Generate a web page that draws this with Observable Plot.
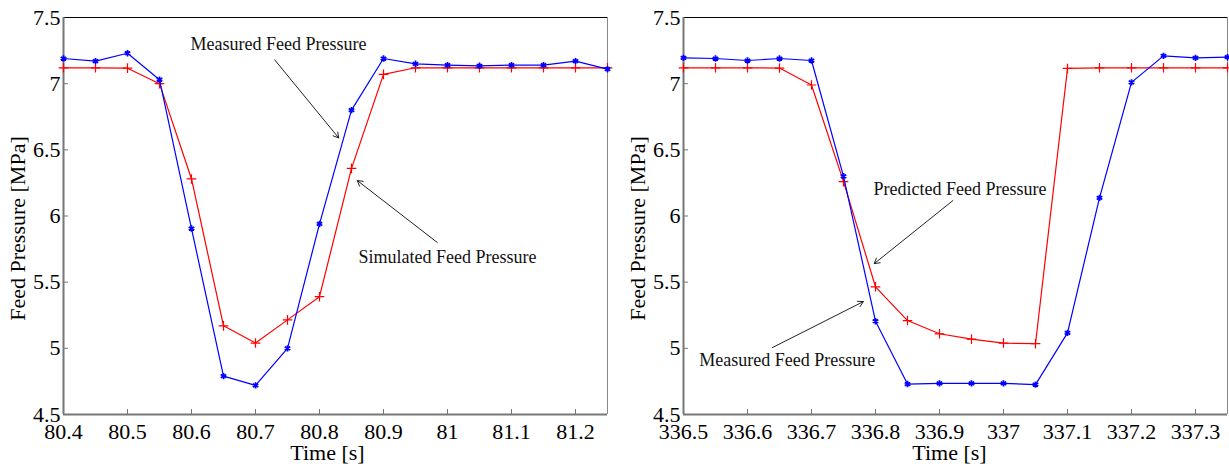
<!DOCTYPE html>
<html>
<head>
<meta charset="utf-8">
<script src="https://cdn.jsdelivr.net/npm/d3@7"></script>
<script src="https://cdn.jsdelivr.net/npm/@observablehq/plot@0.6"></script>
<style>
  html, body { margin: 0; padding: 0; background: white; }
  #wrap { display: flex; width: 1229px; height: 467px; }
  #wrap svg, #wrap svg text { font-family: "Liberation Serif", "Times New Roman", "DejaVu Serif", serif !important; }
</style>
</head>
<body>
<div id="wrap"></div>
<script>
// ---- Data ----
const leftTime = [80.4, 80.45, 80.5, 80.55, 80.6, 80.65, 80.7, 80.75, 80.8, 80.85, 80.9, 80.95, 81.0, 81.05, 81.1, 81.15, 81.2, 81.25];
const leftMeasured = [7.19, 7.17, 7.23, 7.03, 5.905, 4.79, 4.72, 5.0, 5.94, 6.80, 7.19, 7.15, 7.14, 7.135, 7.14, 7.14, 7.17, 7.11];
const leftSimulated = [7.12, 7.12, 7.117, 7.0, 6.28, 5.17, 5.04, 5.215, 5.39, 6.36, 7.07, 7.12, 7.12, 7.12, 7.12, 7.12, 7.12, 7.12];

const rightTime = [336.5, 336.55, 336.6, 336.65, 336.7, 336.75, 336.8, 336.85, 336.9, 336.95, 337.0, 337.05, 337.1, 337.15, 337.2, 337.25, 337.3, 337.35];
const rightMeasured = [7.195, 7.19, 7.175, 7.19, 7.175, 6.30, 5.205, 4.73, 4.735, 4.735, 4.735, 4.726, 5.117, 6.137, 7.01, 7.21, 7.195, 7.20];
const rightPredicted = [7.12, 7.12, 7.12, 7.118, 6.99, 6.26, 5.465, 5.21, 5.11, 5.07, 5.04, 5.035, 7.115, 7.12, 7.12, 7.12, 7.12, 7.12];

const leftXTicks = [80.4, 80.5, 80.6, 80.7, 80.8, 80.9, 81.0, 81.1, 81.2];
const rightXTicks = [336.5, 336.6, 336.7, 336.8, 336.9, 337.0, 337.1, 337.2, 337.3];
const yTicks = [4.5, 5, 5.5, 6, 6.5, 7, 7.5];
const leftXDomain = [80.4, 81.25];
const rightXDomain = [336.5, 337.35];
const yDomain = [4.5, 7.5];

const xLabel = "Time [s]";
const yLabel = "Feed Pressure [MPa]";

// annotations (data coordinates)
const leftNotes = [
  {text: "Measured Feed Pressure", x: 80.736, y: 7.296},
  {text: "Simulated Feed Pressure", x: 81.0, y: 5.69}
];
const leftArrows = [
  {x1: 80.73, y1: 7.18, x2: 80.83, y2: 6.59},
  {x1: 80.984, y1: 5.80, x2: 80.859, y2: 6.268}
];
const rightNotes = [
  {text: "Predicted Feed Pressure", x: 336.932, y: 6.2},
  {text: "Measured Feed Pressure", x: 336.662, y: 4.907}
];
const rightArrows = [
  {x1: 336.921, y1: 6.117, x2: 336.798, y2: 5.64},
  {x1: 336.639, y1: 5.006, x2: 336.781, y2: 5.353}
];

const fmt = d => String(+d.toFixed(2));
const FONT = "'Liberation Serif', 'Times New Roman', serif";

function panel({time, blue, red, xDomain, xTicks, notes, arrows, width, marginLeft, marginRight, xdx}) {
  const height = 467, marginTop = 17, marginBottom = 53;
  const ph = height - marginTop - marginBottom;
  const pw = width - marginLeft - marginRight;
  const bData = time.map((t, i) => ({t, v: blue[i]}));
  const rData = time.map((t, i) => ({t, v: red[i]}));
  return Plot.plot({
    width, height, marginTop, marginBottom, marginLeft, marginRight,
    style: {fontFamily: FONT, fontSize: "22px", background: "white", color: "black", overflow: "visible"},
    x: {domain: xDomain},
    y: {domain: yDomain},
    marks: [
      Plot.axisX({ticks: xTicks, tickSize: 0, tickPadding: 9, tickFormat: fmt, label: null, fontSize: 22, fontFamily: FONT}),
      Plot.axisY({ticks: yTicks, tickSize: 0, tickPadding: 3, tickFormat: fmt, label: null, fontSize: 22, fontFamily: FONT}),
      Plot.ruleX(xTicks, {stroke: "#777", strokeWidth: 1, insetTop: ph - 5}),
      Plot.ruleY(yTicks, {stroke: "#777", strokeWidth: 1, insetRight: pw - 5}),
      Plot.ruleY([yDomain[1]], {stroke: "black", strokeWidth: 1}),
      Plot.ruleX([xDomain[1]], {stroke: "#888", strokeWidth: 1}),
      Plot.ruleX([xDomain[0]], {stroke: "#777", strokeWidth: 2}),
      Plot.ruleY([yDomain[0]], {stroke: "#777", strokeWidth: 2}),
      Plot.line(rData, {x: "t", y: "v", stroke: "#ff0000", strokeWidth: 1.2}),
      Plot.dot(rData, {x: "t", y: "v", stroke: "#ff0000", symbol: "plus", r: 3.2, strokeWidth: 1.2}),
      Plot.line(bData, {x: "t", y: "v", stroke: "#0000ff", strokeWidth: 1.2}),
      Plot.dot(bData, {x: "t", y: "v", stroke: "#0000ff", symbol: "asterisk", r: 3, strokeWidth: 1.8}),
      Plot.arrow(arrows, {x1: "x1", y1: "y1", x2: "x2", y2: "y2", stroke: "#222", strokeWidth: 1, headLength: 9}),
      Plot.text(notes, {x: "x", y: "y", text: "text", fontSize: 18, fontFamily: FONT, fill: "#111", textAnchor: "middle"}),
      Plot.text([xLabel], {text: d => d, frameAnchor: "bottom", dy: 38, dx: xdx, lineAnchor: "middle", fontSize: 22, fontFamily: FONT}),
      Plot.text([yLabel], {text: d => d, frameAnchor: "left", rotate: -90, dx: -54, dy: 12.5, lineAnchor: "top", textAnchor: "middle", fontSize: 22, fontFamily: FONT})
    ]
  });
}

const wrap = document.getElementById("wrap");
wrap.append(panel({time: leftTime, blue: leftMeasured, red: leftSimulated, xDomain: leftXDomain, xTicks: leftXTicks,
  notes: leftNotes, arrows: leftArrows, width: 614, marginLeft: 63, marginRight: 7, xdx: -8}));
wrap.append(panel({time: rightTime, blue: rightMeasured, red: rightPredicted, xDomain: rightXDomain, xTicks: rightXTicks,
  notes: rightNotes, arrows: rightArrows, width: 615, marginLeft: 69, marginRight: 2, xdx: -6}));
</script>
</body>
</html>
